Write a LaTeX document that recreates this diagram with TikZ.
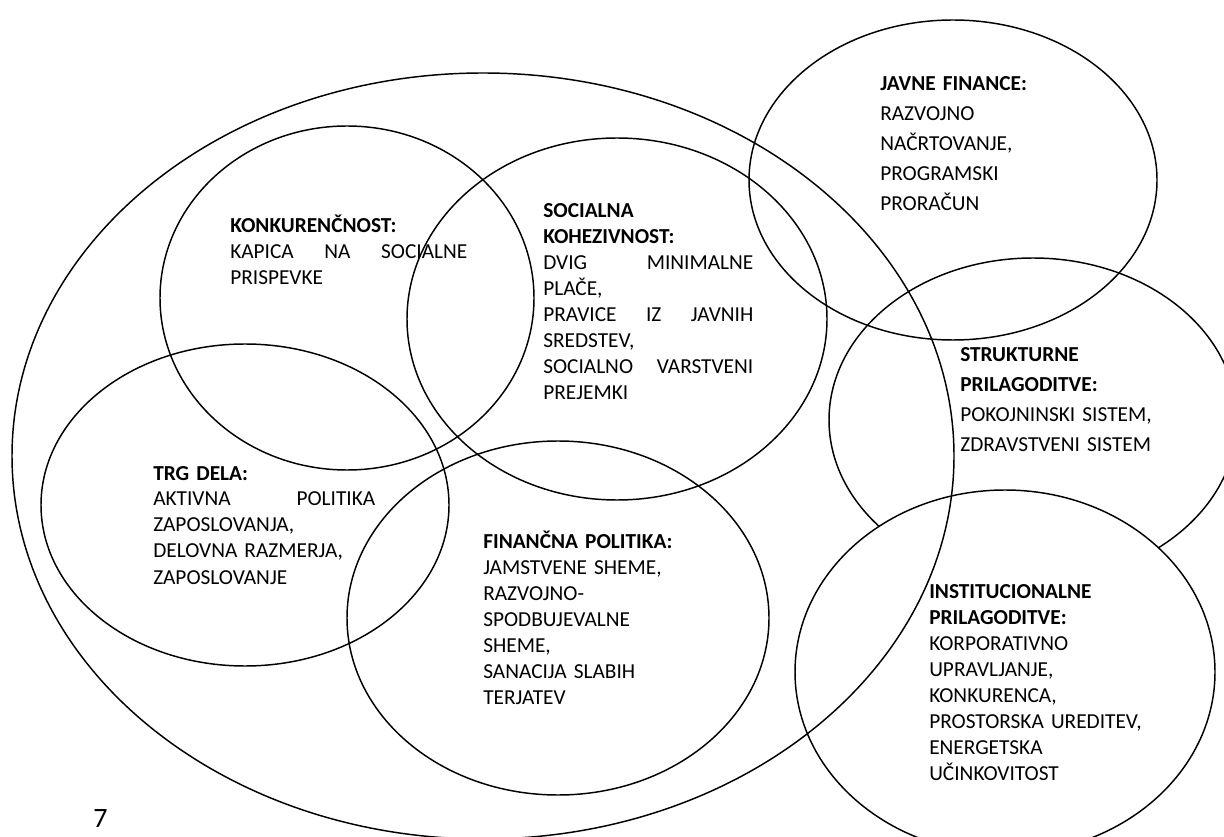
\documentclass[tikz,border=0pt]{standalone}
\usepackage{fontspec}
\setmainfont{Carlito}
\tikzset{
  vennset/.style={line width=1.1pt},
  settext/.style={anchor=base west, inner sep=0pt, align=left,
    font=\fontsize{16}{19.5}\selectfont},
  widetext/.style={settext, font=\fontsize{16}{22.5}\selectfont}
}
\begin{document}
\begin{tikzpicture}[x=0.75pt, y=-0.75pt]
    \clip (0,0) rectangle (1224,837);
    % Strukturne first, institucionalne covers its lower part
    \draw[vennset] (1033,420) ellipse [x radius=204, y radius=162];
    \draw[vennset, fill=white] (1005,672) ellipse [x radius=210, y radius=182];

    % Outer set
    \draw[vennset] (483,456) ellipse [x radius=471, y radius=383];

    % Inner sets
    \draw[vennset] (347,298) ellipse [x radius=187, y radius=172];
    \draw[vennset] (617,319) ellipse [x radius=210, y radius=181];
    \draw[vennset] (245,505) ellipse [x radius=204, y radius=161];
    \draw[vennset] (558,618) ellipse [x radius=211, y radius=177];
    \draw[vennset] (953,180) ellipse [x radius=204, y radius=160];

    % Texts
    \node[settext, text width=177.75pt] (konk) at (230,233)
        {\textbf{KONKURENČNOST:}\\KAPICA\hfill NA\hfill SOCIALNE\\PRISPEVKE};
    \node[settext, text width=157.5pt] (soc) at (543,218)
        {\textbf{SOCIALNA}\\\textbf{KOHEZIVNOST:}\\DVIG\hfill MINIMALNE\\PLAČE,\\
         PRAVICE\hfill IZ\hfill JAVNIH\\SREDSTEV,\\SOCIALNO\hfill VARSTVENI\\PREJEMKI};
    \node[widetext, text width=180pt] (javne) at (880,91)
        {\textbf{JAVNE FINANCE:}\\RAZVOJNO\\NAČRTOVANJE,\\PROGRAMSKI\\PRORAČUN};
    \node[widetext, text width=180pt] (strukt) at (960,362)
        {\textbf{STRUKTURNE}\\\textbf{PRILAGODITVE:}\\POKOJNINSKI SISTEM,\\ZDRAVSTVENI SISTEM};
    \node[settext, text width=166.5pt] (trg) at (153,480)
        {\textbf{TRG DELA:}\\AKTIVNA\hfill POLITIKA\\ZAPOSLOVANJA,\\DELOVNA RAZMERJA,\\ZAPOSLOVANJE};
    \node[settext, text width=180pt] (fin) at (483,548)
        {\textbf{FINANČNA POLITIKA:}\\JAMSTVENE SHEME,\\RAZVOJNO-\\SPODBUJEVALNE\\SHEME,\\
         SANACIJA SLABIH\\TERJATEV};
    \node[settext, text width=180pt] (inst) at (929,598)
        {\textbf{INSTITUCIONALNE}\\\textbf{PRILAGODITVE:}\\KORPORATIVNO\\UPRAVLJANJE,\\
         KONKURENCA,\\PROSTORSKA UREDITEV,\\ENERGETSKA\\UČINKOVITOST};

    % Page number
    \node[anchor=base west, inner sep=0pt, font=\fontsize{21}{25}\selectfont] (page) at (93,827) {7};
\end{tikzpicture}
\end{document}
